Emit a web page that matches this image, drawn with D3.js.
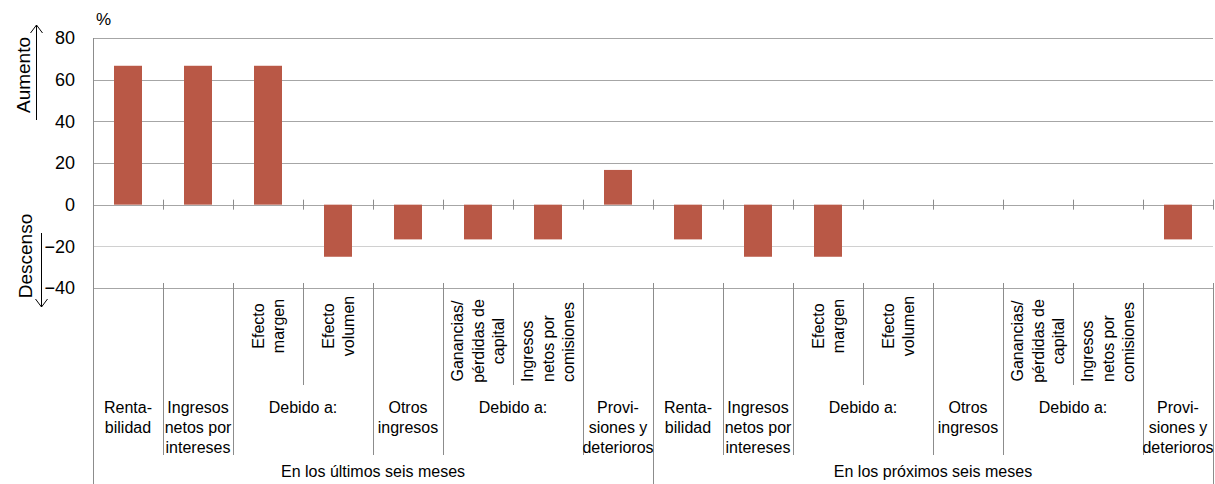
<!DOCTYPE html>
<html>
<head>
<meta charset="utf-8">
<script src="https://cdn.jsdelivr.net/npm/d3@7"></script>
<style>
  html, body { margin: 0; padding: 0; background: #fff; }
  svg { display: block; font-family: "Liberation Sans", Arial, Helvetica, sans-serif; }
</style>
</head>
<body>
<svg id="chart" width="1215" height="484"></svg>
<script>
// ---- Data ----
const periods = ["En los últimos seis meses", "En los próximos seis meses"];
const categories = ["Rentabilidad", "Ingresos netos por intereses", "Efecto margen", "Efecto volumen",
  "Otros ingresos", "Ganancias/pérdidas de capital", "Ingresos netos por comisiones", "Provisiones y deterioros"];
const lastSixMonths = [66.67, 66.67, 66.67, -25, -16.67, -16.67, -16.67, 16.67];
const nextSixMonths = [-16.67, -25, -25, 0, 0, 0, 0, -16.67];
const yTicks = [-40, -20, 0, 20, 40, 60, 80];
// rotated sub-labels (level 1), by category index
const subLabels = [null, null, ["Efecto", "margen"], ["Efecto", "volumen"], null,
  ["Ganancias/", "pérdidas de", "capital"], ["Ingresos", "netos por", "comisiones"], null];
// level 2 groups
const groupLabels = [
  ["Renta-", "bilidad"], ["Ingresos", "netos por", "intereses"], ["Debido a:"],
  ["Otros", "ingresos"], ["Debido a:"], ["Provi-", "siones y", "deterioros"]
];
const groupStart = [0, 1, 2, 4, 5, 7];
const groupEnd = [1, 2, 4, 5, 7, 8];

(function () {
// ---- Build flat rows ----
const rows = [];
periods.forEach((p, pi) => {
  const vals = pi === 0 ? lastSixMonths : nextSixMonths;
  categories.forEach((c, ci) => rows.push({ key: pi + "-" + ci, period: pi, cat: ci, value: vals[ci] }));
});

const svg = d3.select("#chart");
const L = 93, R = 1213, T = 38, B = 288;
const x = d3.scaleBand().domain(rows.map(d => d.key)).range([L, R]).padding(0);
const y = d3.scaleLinear().domain([-40, 80]).range([B, T]);
const bw = x.bandwidth();
const gridColor = "#a6a6a6";
const lineColor = "#8c8c8c";

// gridlines
svg.append("g").selectAll("line").data(yTicks).join("line")
  .attr("x1", L).attr("x2", R)
  .attr("y1", d => Math.round(y(d)) + 0.5).attr("y2", d => Math.round(y(d)) + 0.5)
  .attr("stroke", d => d === -20 ? "#d0d0d0" : gridColor).attr("stroke-width", 1);

// y axis labels
const yAxis = d3.axisLeft(y).tickValues(yTicks).tickSize(0).tickPadding(18).tickFormat(d3.format("d"));
const ya = svg.append("g").attr("transform", `translate(${L},0)`).call(yAxis);
ya.select(".domain").remove();
ya.selectAll("text").attr("font-size", 18).attr("fill", "#000")
  .attr("font-family", "'Liberation Sans', Arial, sans-serif");

// left axis line
svg.append("line").attr("x1", L + 0.5).attr("x2", L + 0.5).attr("y1", T).attr("y2", 484)
  .attr("stroke", lineColor);

// bars
svg.append("g").selectAll("rect").data(rows.filter(d => d.value !== 0)).join("rect")
  .attr("x", d => x(d.key) + bw * 0.3)
  .attr("width", bw * 0.4)
  .attr("y", d => y(Math.max(0, d.value)))
  .attr("height", d => Math.abs(y(d.value) - y(0)))
  .attr("fill", "#b95846");

// boundaries
const boundaries = rows.map((d, i) => i + 1);
const bx = i => Math.round(i < rows.length ? x(rows[i].key) : R) + 0.5;
const g = svg.append("g").attr("stroke", lineColor).attr("stroke-width", 1);
g.selectAll(".zt").data(boundaries).join("line").attr("class", "zt")
  .attr("x1", bx).attr("x2", bx).attr("y1", y(0) - 5).attr("y2", y(0) + 5);
boundaries.forEach(i => {
  const ci = i % categories.length;
  const isPeriodEnd = ci === 0;
  const isGroupEnd = isPeriodEnd || groupStart.includes(ci);
  const yEnd = isPeriodEnd ? 484 : (isGroupEnd ? 455 : 385);
  g.append("line").attr("x1", bx(i)).attr("x2", bx(i)).attr("y1", B - 5).attr("y2", yEnd);
});

// level 1 rotated labels
const fs = 16, lh = 20.5;
rows.forEach(d => {
  const lines = subLabels[d.cat];
  if (!lines) return;
  const cx = x(d.key) + bw / 2;
  let anchor = "middle", yy = 326;
  if (d.cat === 5) { yy = 341; }
  if (d.cat === 6) { anchor = "start"; yy = 382; }
  lines.forEach((t, li) => {
    const lx = cx + (li - (lines.length - 1) / 2) * lh;
    svg.append("text").attr("transform", `translate(${lx},${yy}) rotate(-90)`)
      .attr("dy", "0.36em").attr("text-anchor", anchor).attr("font-size", fs).attr("fill", "#000").text(t);
  });
});

// level 2 labels and level 3
periods.forEach((p, pi) => {
  groupLabels.forEach((lines, gi) => {
    const x0 = x(pi + "-" + groupStart[gi]);
    const x1 = groupEnd[gi] < categories.length ? x(pi + "-" + groupEnd[gi]) : (pi === 0 ? x("1-0") : R);
    const cx = (x0 + x1) / 2;
    lines.forEach((t, li) => {
      svg.append("text").attr("x", cx).attr("y", 413 + li * 20).attr("text-anchor", "middle")
        .attr("font-size", fs).attr("fill", "#000").text(t);
    });
  });
  const px0 = x(pi + "-0");
  const px1 = pi === 0 ? x("1-0") : R;
  svg.append("text").attr("x", (px0 + px1) / 2).attr("y", 477).attr("text-anchor", "middle")
    .attr("font-size", fs).attr("fill", "#000").text(p);
});

// % label
svg.append("text").attr("x", 96).attr("y", 25).attr("font-size", 17).attr("fill", "#000").text("%");

// Aumento / Descenso
svg.append("text").attr("transform", "translate(30,75) rotate(-90)").attr("text-anchor", "middle")
  .attr("font-size", 19).attr("fill", "#000").text("Aumento");
svg.append("text").attr("transform", "translate(32,256) rotate(-90)").attr("text-anchor", "middle")
  .attr("font-size", 19).attr("fill", "#000").text("Descenso");
const arr = svg.append("g").attr("stroke", "#000").attr("stroke-width", 1).attr("fill", "none");
arr.append("line").attr("x1", 36.5).attr("x2", 36.5).attr("y1", 25).attr("y2", 120);
arr.append("polyline").attr("points", "30.5,33 36.5,25 42.5,33");
arr.append("line").attr("x1", 41.5).attr("x2", 41.5).attr("y1", 233).attr("y2", 307);
arr.append("polyline").attr("points", "35.5,299 41.5,307 47.5,299");
})();
</script>
</body>
</html>
